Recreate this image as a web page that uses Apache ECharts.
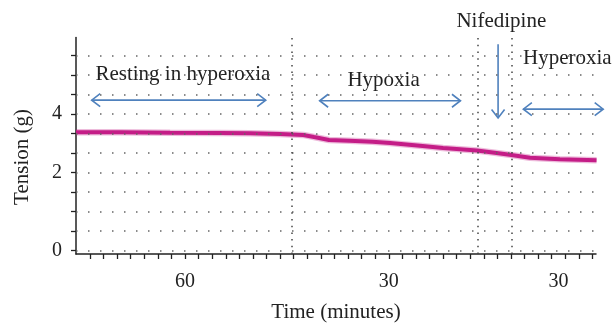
<!DOCTYPE html>
<html>
<head>
<meta charset="utf-8">
<script src="https://cdn.jsdelivr.net/npm/echarts@6/dist/echarts.min.js"></script>
<style>
  html, body { margin: 0; padding: 0; background: #fff; }
  #chart { width: 614px; height: 328px; }
</style>
</head>
<body>
<div id="chart"></div>
<script>
// trace: position on the time axis (in tick steps) and tension (g)
const timePos = [-1.03, 2.2, 5.9, 9.6, 11.8, 14.0, 15.7, 16.5, 17.6, 19.1, 20.8, 22.1, 24.3, 26.0, 28.5, 29.8, 30.9, 32.4, 34.6, 37.3]
const tension = [3.373, 3.367, 3.353, 3.347, 3.333, 3.313, 3.28, 3.207, 3.107, 3.08, 3.047, 3.0, 2.907, 2.833, 2.747, 2.673, 2.6, 2.5, 2.447, 2.413]

// x axis: 38 minor ticks, three labels
const xTickPos = [0, 1, 2, 3, 4, 5, 6, 7, 8, 9, 10, 11, 12, 13, 14, 15, 16, 17, 18, 19, 20, 21, 22, 23, 24, 25, 26, 27, 28, 29, 30, 31, 32, 33, 34, 35, 36, 37]
const xLabels = ['60', '30', '30']
const xLabelPos = [7, 22, 34.5]

// y axis: the figure's scale is uneven (0-2 over 4 steps, 2-4 over 3 steps)
const yTickPos = [0, 1, 2, 3, 4, 5, 6, 7, 8, 9, 10]
const yLabels = ['0', '2', '4']
const yLabelGrams = [0, 2, 4]

// phase boundaries (vertical dotted lines)
const phaseBounds = [14.83, 28.53, 31.03]
const phaseNames = ['Resting in hyperoxia', 'Hypoxia', 'Hyperoxia']
const drugName = 'Nifedipine'

function toAxis (g) {
  return g <= 2 ? g * 2 : 4 + (g - 2) * 1.5
}

const yLabelPos = yLabelGrams.map(toAxis)
const trace = timePos.map((t, i) => [t, toAxis(tension[i])])

const FONT = '"Liberation Serif", "DejaVu Serif", serif'
const INK = '#222'
const BLUE = '#4f81bd'
const PINK = '#c41d87'

const myChart = echarts.init(document.getElementById('chart'))

const dotsH = { color: '#666', width: 1.5, type: [1.5, 10.5] }
const dotsV = { color: '#444', width: 1.5, type: [1.5, 5.2] }

const option = {
  animation: false,
  backgroundColor: '#fff',
  grid: { left: 76, right: 18, top: 37.5, bottom: 68.7 },
  xAxis: {
    type: 'value',
    min: -1.03,
    max: 37.26,
    name: 'Time (minutes)',
    nameLocation: 'middle',
    nameGap: 48,
    nameTextStyle: { fontFamily: FONT, fontSize: 21, color: INK },
    axisLine: { show: true, onZero: false, lineStyle: { color: INK, width: 1.5 } },
    axisTick: { show: true, customValues: xTickPos, length: 5, lineStyle: { color: INK, width: 1.3 } },
    axisLabel: {
      customValues: xLabelPos,
      formatter: v => xLabels[xLabelPos.indexOf(v)],
      margin: 18,
      fontFamily: FONT,
      fontSize: 20,
      color: INK
    },
    splitLine: { show: false }
  },
  yAxis: {
    type: 'value',
    min: -0.18,
    max: 10.91,
    axisLine: { show: true, onZero: false, lineStyle: { color: INK, width: 1.5 } },
    axisTick: { show: true, customValues: yTickPos, length: 5, lineStyle: { color: INK, width: 1.3 } },
    axisLabel: {
      customValues: yLabelPos,
      formatter: v => yLabels[yLabelPos.indexOf(v)],
      margin: 14,
      fontFamily: FONT,
      fontSize: 20,
      color: INK
    },
    splitLine: { show: false }
  },
  series: [
    {
      type: 'line',
      data: trace,
      symbol: 'none',
      z: 3,
      lineStyle: { color: PINK, width: 6.5, opacity: 0.3 },
      markLine: {
        silent: true,
        symbol: ['none', 'none'],
        label: { show: false },
        emphasis: { disabled: true },
        data: yTickPos.map(v => ({ yAxis: v, lineStyle: dotsH }))
          .concat(phaseBounds.map(v => ({ xAxis: v, lineStyle: dotsV })))
      }
    },
    {
      type: 'line',
      data: trace,
      symbol: 'none',
      z: 4,
      lineStyle: { color: PINK, width: 4 }
    }
  ]
}
myChart.setOption(option)

// annotation anchors, in axis units [time step, y step]
const textAt = [[6.84, 9.0], [21.62, 8.72], [35.15, 9.85]]
const drugAt = [30.29, 11.75]
const arrowsAt = [
  [[0.125, 7.7], [12.94, 7.7], 2],
  [[16.91, 7.67], [27.28, 7.67], 2],
  [[31.91, 7.24], [37.79, 7.24], 2],
  [[30.05, 10.57], [30.05, 6.79], 1]
]

function px (p) {
  return myChart.convertToPixel({ gridIndex: 0 }, p)
}

function arrow (a, b, heads) {
  const dx = b[0] - a[0]
  const dy = b[1] - a[1]
  const len = Math.sqrt(dx * dx + dy * dy)
  const ux = dx / len
  const uy = dy / len
  const style = { stroke: BLUE, lineWidth: 1.6, fill: null }
  const out = [{ type: 'line', shape: { x1: a[0], y1: a[1], x2: b[0], y2: b[1] }, style: style }]
  const head = (p, sx, sy) => ({
    type: 'polyline',
    shape: {
      points: [
        [p[0] - sx * 8.5 + sy * 6.5, p[1] - sy * 8.5 - sx * 6.5],
        [p[0], p[1]],
        [p[0] - sx * 8.5 - sy * 6.5, p[1] - sy * 8.5 + sx * 6.5]
      ]
    },
    style: style
  })
  out.push(head(b, ux, uy))
  if (heads === 2) out.push(head(a, -ux, -uy))
  return out
}

const text = (s, p, size) => ({
  type: 'text',
  x: p[0],
  y: p[1],
  style: { text: s, fontFamily: FONT, fontSize: size, fill: INK, align: 'center', verticalAlign: 'middle' }
})

let graphic = []
phaseNames.forEach((n, i) => graphic.push(text(n, px(textAt[i]), 21)))
graphic.push(text(drugName, px(drugAt), 21))
arrowsAt.forEach(a => { graphic = graphic.concat(arrow(px(a[0]), px(a[1]), a[2])) })
graphic.push({
  type: 'text',
  x: 22,
  y: 157,
  rotation: Math.PI / 2,
  style: { text: 'Tension (g)', fontFamily: FONT, fontSize: 21, fill: INK, align: 'center', verticalAlign: 'middle' }
})

myChart.setOption({ graphic: graphic })

window.addEventListener('resize', function () {
  myChart.resize()
})
</script>
</body>
</html>
